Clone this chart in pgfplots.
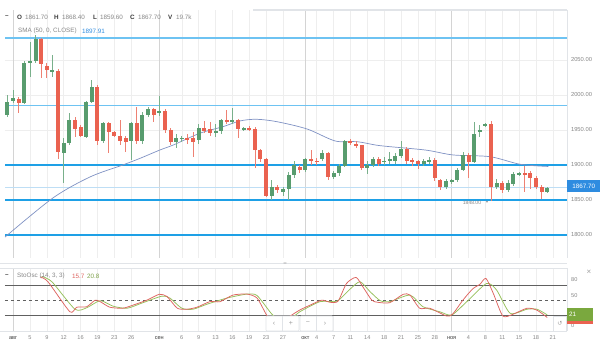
\documentclass[border=0pt]{standalone}
\usepackage{fontspec}
\setmainfont{Liberation Sans}
\newfontfamily\dejavu{DejaVu Sans}
\usepackage{pgfplots}
\usepackage{pgfplotstable}
\pgfplotsset{compat=1.18}
\definecolor{cgreen}{RGB}{88,156,110}
\definecolor{cred}{RGB}{234,98,80}
\definecolor{hlblue}{RGB}{30,160,230}
\definecolor{hlblue2}{RGB}{110,195,242}
\definecolor{curline}{RGB}{190,222,245}
\definecolor{smac}{RGB}{128,146,196}
\definecolor{txtgray}{RGB}{135,135,135}
\definecolor{darktxt}{RGB}{60,60,60}
\definecolor{gridc}{RGB}{238,238,238}
\definecolor{monthgrid}{RGB}{212,212,212}
\definecolor{pricebox}{RGB}{46,140,224}
\definecolor{stored}{RGB}{222,100,95}
\definecolor{stogreen}{RGB}{150,192,90}
\definecolor{stobox}{RGB}{122,168,62}
\definecolor{sepc}{RGB}{225,228,232}

% up (green) candles
\pgfplotstableread{
i O H L C
-1 1971 2000 1968 1990
0 1991 2007 1988 1995
2 1989 2049 1987 2045
3 2045 2076 2026 2048
4 2048 2086 2046 2080
7 2034 2057 2026 2036
9 1917 1938 1874 1931
10 1931 1974 1929 1964
13 1940 1992 1938 1990
14 1990 2021 1988 2012
16 1934 1962 1932 1960
21 1934 1962 1907 1960
23 1934 1975 1930 1971
24 1972 1983 1968 1980
26 1974 1999 1970 1977
29 1933 1944 1924 1939
30 1937 1942 1933 1939
33 1936 1958 1930 1953
36 1946 1958 1940 1949
37 1948 1966 1945 1964
39 1961 1981 1958 1964
41 1950 1955 1948 1953
46 1856 1878 1850 1869
48 1862 1869 1855 1866
49 1866 1890 1850 1886
50 1886 1906 1882 1900
52 1893 1910 1890 1908
55 1908 1922 1905 1917
57 1883 1892 1880 1888
58 1888 1901 1885 1898
59 1898 1936 1897 1934
63 1896 1905 1887 1900
64 1900 1912 1897 1909
66 1904 1912 1900 1906
67 1906 1919 1902 1908
68 1905 1917 1902 1913
69 1913 1934 1910 1923
73 1901 1908 1898 1905
74 1905 1912 1902 1907
77 1868 1880 1865 1877
78 1876 1880 1873 1878
79 1878 1896 1875 1893
80 1893 1919 1891 1915
82 1905 1961 1903 1945
83 1947 1957 1940 1950
84 1957 1960 1955 1958
86 1869 1880 1866 1874
88 1864 1878 1861 1874
89 1873 1890 1870 1887
90 1886 1890 1884 1888
95 1861.7 1868.4 1859.6 1867.7
}\upc

% down (red) candles
\pgfplotstableread{
i O H L C
1 1995 1997 1974 1989
5 2080 2082 2024 2044
6 2042 2045 2024 2035
8 2035 2037 1909 1919
11 1964 1968 1940 1951
12 1955 1957 1940 1942
15 2012 2014 1928 1934
17 1960 1962 1917 1947
18 1947 1949 1940 1942
19 1942 1964 1928 1934
20 1938 1942 1919 1933
22 1960 1983 1930 1934
25 1980 1982 1962 1972
27 1977 1980 1946 1950
28 1950 1953 1928 1933
31 1939 1944 1930 1936
32 1938 1947 1912 1933
34 1953 1963 1945 1948
35 1951 1962 1942 1946
38 1964 1978 1958 1961
40 1964 1966 1938 1951
42 1953 1955 1949 1951
43 1951 1954 1895 1921
44 1921 1923 1904 1908
45 1908 1910 1854 1856
47 1869 1871 1860 1864
51 1897 1900 1889 1893
53 1908 1921 1900 1905
54 1906 1910 1900 1904
56 1917 1919 1878 1883
60 1934 1937 1928 1931
61 1930 1934 1924 1927
62 1928 1929 1893 1896
65 1909 1911 1898 1901
70 1923 1926 1902 1906
71 1907 1910 1898 1904
72 1905 1907 1895 1901
75 1907 1910 1877 1881
76 1879 1880 1864 1868
81 1915 1917 1881 1905
85 1958 1963 1848 1869
87 1874 1877 1860 1864
91 1888 1898 1862 1886
92 1888 1892 1866 1881
93 1881 1884 1866 1869
94 1869 1871 1852 1861
}\downc

\pgfplotsset{
  paneaxis/.style={
    scale only axis, width=562pt,
    xmin=-1.441, xmax=98.52,
    axis line style={draw=none},
    major tick length=0pt,
    xtick={0,3,6,9,12,15,18,21,26,30,33,36,39,42,45,48,52,54,57,60,63,66,69,72,75,78,81,84,87,90,93,96},
    xmajorgrids,
    major grid style={gridc, line width=0.5pt},
    extra x ticks={0,26,52,78},
    extra x tick labels={},
    extra x tick style={grid=major, major grid style={monthgrid, line width=0.6pt}},
    clip=true,
  },
  band/.style={fill=#1, draw=none, mark=none, forget plot},
  wick/.style={draw=none, mark=none, forget plot,
    error bars/.cd, y dir=both, y explicit, error mark=none,
    error bar style={line width=0.7pt, draw=#1, solid}},
  body/.style={draw=none, mark=none, forget plot,
    error bars/.cd, y dir=both, y explicit, error mark=none,
    error bar style={line width=4pt, draw=#1, solid}},
}

\begin{document}
\begin{tikzpicture}[x=1pt,y=1pt]
\useasboundingbox (0,0) rectangle (600,353);
\fill[white] (0,0) rectangle (600,353);

% ===== main price pane =====
\begin{axis}[paneaxis,
  at={(5pt,95pt)}, anchor=south west,
  height=248pt,
  ymin=1767.14, ymax=2121.43,
  xticklabels={},
  ytick={1800,1850,1900,1950,2000,2050},
  ymajorgrids,
  yticklabel pos=right,
  yticklabel style={font=\fontsize{5.8}{6}\selectfont, text=txtgray, anchor=west, xshift=0.5pt,
    /pgf/number format/.cd, fixed, fixed zerofill, precision=2, 1000 sep={}, assume math mode=true},
]
% horizontal levels drawn as thin bands (level +- half thickness)
\addplot[band=curline] coordinates {(-1.441,1867.2) (98.52,1867.2) (98.52,1868.2) (-1.441,1868.2)} -- cycle;
\addplot[band=hlblue2] coordinates {(-1.441,2079.6) (98.52,2079.6) (98.52,2082.4) (-1.441,2082.4)} -- cycle;
\addplot[band=hlblue2] coordinates {(-1.441,1983.6) (98.52,1983.6) (98.52,1986.4) (-1.441,1986.4)} -- cycle;
\addplot[band=hlblue] coordinates {(-1.441,1899.1) (98.52,1899.1) (98.52,1901.9) (-1.441,1901.9)} -- cycle;
\addplot[band=hlblue] coordinates {(-1.441,1848.1) (98.52,1848.1) (98.52,1850.9) (-1.441,1850.9)} -- cycle;
\addplot[band=hlblue] coordinates {(-1.441,1798.3) (98.52,1798.3) (98.52,1801.1) (-1.441,1801.1)} -- cycle;
% SMA 50
\addplot[smac, mark=none, line width=0.7pt, smooth, tension=0.5] coordinates {
(-1.44,1797) (7.1,1853) (13.7,1883) (19.5,1900) (22.6,1909.6) (26.1,1921.4)
(28.5,1928.6) (33.2,1945.3) (37.3,1954.7) (40.4,1963) (43.3,1965.3) (46.9,1961.9)
(52.3,1951.4) (57.3,1934.3) (61.2,1933.3) (65.3,1927.6) (73.3,1921.4) (78.3,1914.3)
(84.8,1911.9) (90.2,1901) (95.2,1897.9)};
\addplot[wick=cgreen!80] table[x=i, y expr={(\thisrow{H}+\thisrow{L})/2}, y error expr={(\thisrow{H}-\thisrow{L})/2}] {\upc};
\addplot[wick=cred!80] table[x=i, y expr={(\thisrow{H}+\thisrow{L})/2}, y error expr={(\thisrow{H}-\thisrow{L})/2}] {\downc};
\addplot[body=cgreen] table[x=i, y expr={(\thisrow{O}+\thisrow{C})/2}, y error expr={max(abs(\thisrow{C}-\thisrow{O})/2,0.9)}] {\upc};
\addplot[body=cred] table[x=i, y expr={(\thisrow{O}+\thisrow{C})/2}, y error expr={max(abs(\thisrow{C}-\thisrow{O})/2,0.9)}] {\downc};
\end{axis}

% ===== stochastic pane =====
\begin{axis}[paneaxis,
  at={(5pt,22pt)}, anchor=south west,
  height=63pt,
  ymin=-11.09, ymax=113.66,
  ytick=\empty,
  xticklabels={{\color{darktxt}авг},5,9,12,16,19,23,26,{\color{darktxt}сен},6,9,13,16,19,23,27,{\color{darktxt}окт},4,7,11,14,18,21,25,28,{\color{darktxt}ноя},4,8,11,15,18,21},
  xticklabel style={font=\fontsize{5.6}{6}\selectfont, text=txtgray, yshift=-1.5pt},
]
\addplot[gray!75!black, mark=none, line width=0.7pt] coordinates {(-1.441,80) (98.52,80)};
\addplot[gray!75!black, mark=none, line width=0.7pt] coordinates {(-1.441,20) (98.52,20)};
\addplot[gray!75!black, mark=none, line width=0.5pt, dashed] coordinates {(-1.441,50) (98.52,50)};
\addplot[stogreen, mark=none, line width=0.75pt, smooth, tension=0.4] coordinates {
(5.1,97) (6.9,86.5) (11.0,32) (13.1,35) (15.5,49) (17.8,38) (20.3,34) (23.1,45)
(26.5,58) (27.9,54) (30.0,34) (32.0,32) (34.5,42) (38.0,54) (41.6,62) (43.4,59)
(46.0,22.6) (47.5,10) (49.3,12) (51.0,27) (54.6,47) (57.6,48) (59.9,71.5) (61.7,86.5)
(63.5,66.7) (65.3,49) (67.0,47) (70.6,60) (72.9,37) (75.9,27) (78.0,20.6) (80.7,47)
(84.2,83) (86.0,70) (88.4,24) (91.4,32) (93.2,32) (95,20.8)};
\addplot[stored, mark=none, line width=0.75pt, smooth, tension=0.4] coordinates {
(4.8,96) (6.2,86.5) (10.1,27) (11.3,36) (13.1,37) (14.6,50) (15.5,47) (17.2,36)
(19.5,34) (21.3,40) (23.8,50) (26.0,61.6) (27.4,57) (29.2,34) (30.9,32) (32.7,36)
(35.0,47) (36.8,47) (39.1,60) (41.6,62) (43.4,54) (45.2,18.6) (46.6,5) (48,8)
(49.3,18.6) (51.0,30.5) (52.8,40) (54.9,50) (56.4,45.7) (57.8,48) (59.3,83) (61.0,95)
(62.2,76.6) (63.8,50) (64.9,45.7) (67.0,45) (69.4,61.6) (70.6,60) (72.3,34) (74.1,34)
(77.1,18.6) (78.2,22.6) (80.0,50) (81.8,73) (83.0,81) (84.1,93) (85.4,63.6) (87.1,18.6)
(88.9,22) (91.4,34) (93.2,30) (95,15.7)};
\end{axis}

% ===== decorations / UI =====
\draw[sepc, line width=1.5pt] (253,343) -- (567,343);
\draw[sepc, line width=0.6pt] (567,95) -- (567,343);
\draw[sepc, line width=0.6pt] (567,22) -- (567,85);
\draw[sepc, line width=0.8pt] (0,90) -- (567,90);
\draw[sepc, line width=0.8pt] (0,85) -- (567,85);
\draw[sepc, line width=0.5pt] (0,22) -- (567,22);
\node[text=txtgray!70, font=\fontsize{6}{6}\selectfont] at (285,88.5) {=};

\begin{scope}[every node/.style={anchor=west, inner sep=0pt, font=\fontsize{6.3}{7}\selectfont}]
\node[text=darktxt] at (5,336) {\textbf{–}};
\node[text=darktxt] at (17,336) {\textbf{O}};
\node[text=txtgray] at (25,336) {1861.70};
\node[text=darktxt] at (54,336) {\textbf{H}};
\node[text=txtgray] at (62,336) {1868.40};
\node[text=darktxt] at (93,336) {\textbf{L}};
\node[text=txtgray] at (100,336) {1859.60};
\node[text=darktxt] at (130,336) {\textbf{C}};
\node[text=txtgray] at (138,336) {1867.70};
\node[text=darktxt] at (168,336) {\textbf{V}};
\node[text=txtgray] at (176,336) {19.7k};
\node[text=txtgray] at (18,322) {SMA (50, 0, CLOSE)};
\node[text=pricebox] at (82,322) {1897.91};
\node[text=darktxt] at (5,77) {\textbf{–}};
\node[text=txtgray] at (17,77) {StoOsc (14, 3, 3)};
\node[text=stored] at (72,77) {15.7};
\node[text=stogreen!85!black] at (87,77) {20.8};
\end{scope}

\node[fill=pricebox, text=white, inner sep=0pt, minimum width=33pt, minimum height=12pt,
  font=\fontsize{6.3}{7}\selectfont, anchor=west] at (567,166.5) {1867.70};
\node[text=txtgray, font=\fontsize{5}{6}\selectfont, inner sep=0pt] at (472,150) {1848.00};
\node[text=txtgray, font=\fontsize{4}{5}\selectfont\dejavu, inner sep=0pt] at (487,150.5) {▾};

\begin{scope}[every node/.style={anchor=west, inner sep=0pt, text=txtgray, font=\fontsize{5.6}{6}\selectfont}]
\node at (571,73) {80};
\node at (571,57) {50};
\node at (571,27) {0};
\end{scope}
\fill[cred] (567,29) rectangle (593,32.5);
\node[fill=stobox, text=white, inner sep=0pt, minimum width=26pt, minimum height=13pt,
  font=\fontsize{6.3}{7}\selectfont, anchor=south west, text width=22pt, align=left] at (567,31.5) {21};
\node[text=txtgray!80, font=\fontsize{8}{8}\selectfont] at (589,81) {×};

\draw[sepc, fill=white, line width=0.6pt, rounded corners=1pt] (266,22) rectangle (299,37);
\draw[sepc, fill=white, line width=0.6pt, rounded corners=1pt] (300,22) rectangle (333,37);
\draw[sepc, line width=0.5pt] (282.5,22) -- (282.5,37);
\draw[sepc, line width=0.5pt] (316.5,22) -- (316.5,37);
\begin{scope}[every node/.style={text=txtgray!80, font=\fontsize{7}{7}\selectfont}]
\node at (274,29.5) {‹};
\node at (291,29.5) {+};
\node at (308,29.5) {−};
\node at (325,29.5) {›};
\end{scope}
\draw[sepc, fill=white, line width=0.5pt] (553,22) rectangle (566.5,37);
\node[text=txtgray!80, font=\fontsize{6}{6}\selectfont\dejavu] at (560,29.5) {↺};
\end{tikzpicture}
\end{document}
